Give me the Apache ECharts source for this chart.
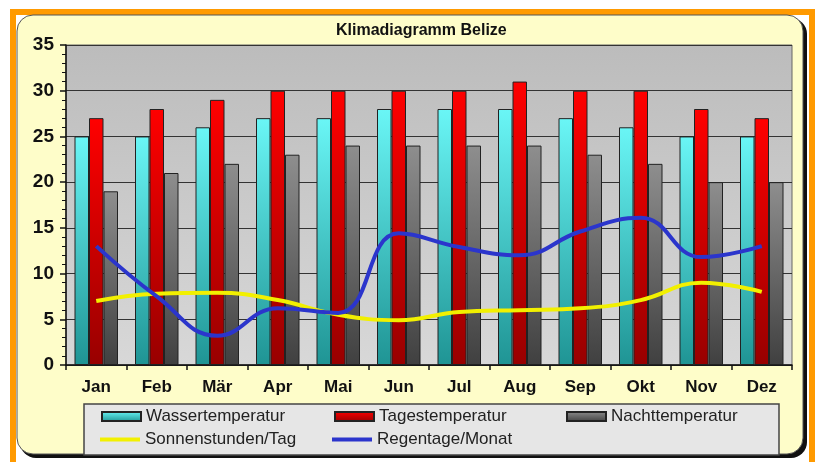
<!DOCTYPE html>
<html>
<head>
<meta charset="utf-8">
<script src="https://cdn.jsdelivr.net/npm/echarts@6/dist/echarts.min.js"></script>
<style>
html,body{margin:0;padding:0;background:#fff;}
#c{width:817px;height:462px;}
</style>
</head>
<body>
<div id="c"></div>
<script>
var titleText = 'Klimadiagramm Belize';
var months = ['Jan','Feb','Mär','Apr','Mai','Jun','Jul','Aug','Sep','Okt','Nov','Dez'];
var yTicks = [0,5,10,15,20,25,30,35];
var wasser = [25,25,26,27,27,28,28,28,27,26,25,25];
var tages  = [27,28,29,30,30,30,30,31,30,30,28,27];
var nacht  = [19,21,22,23,24,24,24,24,23,22,20,20];
var sonne  = [7,7.8,7.9,7.1,5.5,4.9,5.8,6,6.2,7.1,9,8];
var regen  = [13,7.5,3.2,6.2,5.7,14.4,12.9,12,14.6,16.1,11.8,13];
var names = ['Wassertemperatur','Tagestemperatur','Nachttemperatur','Sonnenstunden/Tag','Regentage/Monat'];

function vgrad(top, bottom){
  return new echarts.graphic.LinearGradient(0,0,0,1,[{offset:0,color:top},{offset:1,color:bottom}]);
}
var chart = echarts.init(document.getElementById('c'), null, {renderer:'canvas'});
var legendFont = {fontFamily:'Liberation Sans, Arial, sans-serif', fontSize:17, color:'#222'};
function leg(name, left, top, isLine){
  return {
    data:[name], left:left, top:top, orient:'horizontal',
    itemWidth: isLine ? 40 : 39, itemHeight: isLine ? 4 : 9,
    icon: 'rect', selectedMode:false, padding:0,
    textStyle: legendFont
  };
}
var option = {
  animation:false,
  backgroundColor:'#ffffff',
  title:{text:titleText, left:336, top:23, padding:0,
    textStyle:{fontFamily:'Liberation Sans, Arial, sans-serif', fontSize:16, fontWeight:'bold', color:'#111'}},
  graphic:[
    {type:'rect', z:-20, shape:{x:13,y:12,width:799,height:470}, style:{fill:'none', stroke:'#ff9a00', lineWidth:6}},
    {type:'rect', z:-19, shape:{x:20,y:18,width:787,height:440,r:16}, style:{fill:'#111'}},
    {type:'rect', z:-18, shape:{x:17,y:15,width:786,height:439,r:16}, style:{fill:'#fefdc9', stroke:'#555', lineWidth:1}},
    {type:'rect', z:-17, shape:{x:84,y:404,width:695,height:51}, style:{fill:'#e6e6e6', stroke:'#444', lineWidth:1.5}}
  ],
  legend:[
    leg(names[0], 101, 408, false),
    leg(names[1], 334, 408, false),
    leg(names[2], 566, 408, false),
    leg(names[3], 100, 431, true),
    leg(names[4], 332, 431, true)
  ],
  grid:{left:66, right:25, top:45, bottom:97, show:true,
    backgroundColor: vgrad('#bcbcbc','#d8d8d8'),
    borderColor:'#666', borderWidth:1},
  xAxis:{
    type:'category', data:months, boundaryGap:true,
    axisLine:{lineStyle:{color:'#111', width:1.5}},
    axisTick:{show:true, length:5, inside:false, lineStyle:{color:'#111', width:1.5}},
    axisLabel:{margin:14, fontFamily:'Liberation Sans, Arial, sans-serif', fontSize:17, fontWeight:'bold', color:'#111'},
    splitLine:{show:false}
  },
  yAxis:{
    type:'value', min:yTicks[0], max:yTicks[yTicks.length-1], interval:5,
    axisLine:{show:true, lineStyle:{color:'#111', width:1.5}},
    axisTick:{show:true, length:6, lineStyle:{color:'#111', width:1.5}},
    minorTick:{show:true, splitNumber:5, length:4, lineStyle:{color:'#111', width:1}},
    axisLabel:{margin:12, fontFamily:'Liberation Sans, Arial, sans-serif', fontSize:19, fontWeight:'bold', color:'#111'},
    splitLine:{show:true, lineStyle:{color:'#333', width:1.2}}
  },
  series:[
    {name:names[0], type:'bar', data:wasser, barWidth:14.5, barGap:'0%',
      itemStyle:{color:vgrad('#6af6f6','#1f9494'), borderColor:'#222', borderWidth:1}},
    {name:names[1], type:'bar', data:tages, barWidth:14.5, barGap:'0%',
      itemStyle:{color:vgrad('#ff0000','#980000'), borderColor:'#222', borderWidth:1}},
    {name:names[2], type:'bar', data:nacht, barWidth:14.5, barGap:'0%',
      itemStyle:{color:vgrad('#8e8e8e','#404040'), borderColor:'#222', borderWidth:1}},
    {name:names[3], type:'line', data:sonne, smooth:0.45, showSymbol:false, symbol:'none', z:5,
      lineStyle:{color:'#f2f000', width:4}, itemStyle:{color:'#f2f000'}},
    {name:names[4], type:'line', data:regen, smooth:0.45, showSymbol:false, symbol:'none', z:6,
      lineStyle:{color:'#2b35cc', width:4}, itemStyle:{color:'#2b35cc'}}
  ]
};
chart.setOption(option);
</script>
</body>
</html>
